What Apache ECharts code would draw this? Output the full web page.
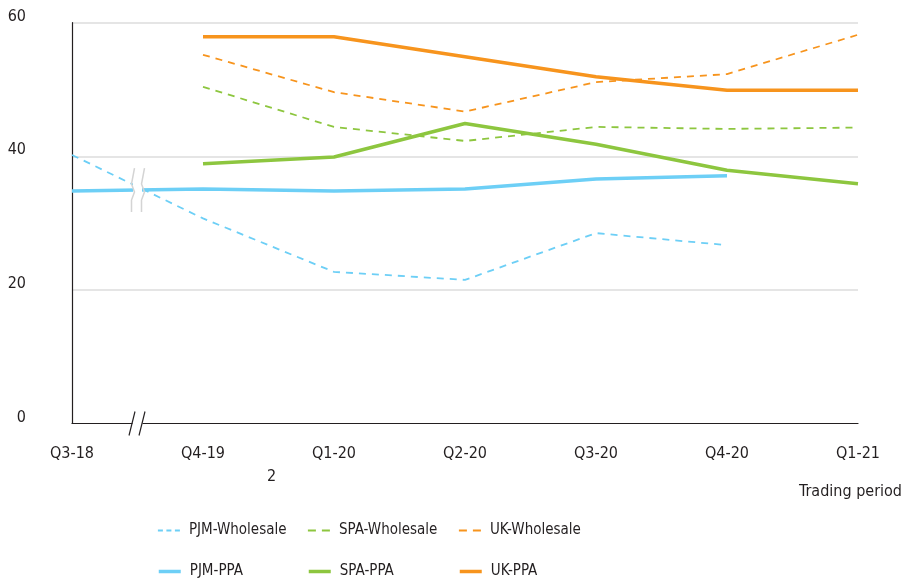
<!DOCTYPE html>
<html>
<head>
<meta charset="utf-8">
<script src="https://cdn.jsdelivr.net/npm/echarts@6/dist/echarts.min.js"></script>
<style>
  html, body { margin: 0; padding: 0; background: #fff; }
  #chart { width: 919px; height: 579px; }
</style>
</head>
<body>
<div id="chart"></div>
<script>
// Trading periods (gap between Q3-18 and Q4-19 shown as an axis break)
const periods = ['Q3-18', 'Q4-19', 'Q1-20', 'Q2-20', 'Q3-20', 'Q4-20', 'Q1-21'];

// Prices per trading period
const pjmWholesale = [40.2, 30.7, 22.7, 21.5, 28.5, 26.7, null];
const spaWholesale = [null, 50.4, 44.4, 42.3, 44.4, 44.1, 44.3];
const ukWholesale  = [null, 55.2, 49.6, 46.7, 51.1, 52.3, 58.2];
const pjmPPA       = [34.8, 35.1, 34.8, 35.1, 36.6, 37.1, null];
const spaPPA       = [null, 38.9, 39.9, 44.9, 41.8, 37.9, 35.9];
const ukPPA        = [null, 57.9, 57.9, 54.9, 51.9, 49.9, 49.9];

const yTicks = [0, 20, 40, 60];

const FONT = '"DejaVu Sans Condensed", "Liberation Sans Narrow", "Roboto", sans-serif';
const TEXT = '#231f20';
const BLUE = '#6dcff6', GREEN = '#8dc63f', ORANGE = '#f7941d';

function line(name, data, color, dashed) {
  return {
    name, type: 'line', data,
    showSymbol: false, symbol: 'none',
    connectNulls: false, z: dashed ? 2 : 3,
    lineStyle: dashed
      ? { color, width: 1.8, type: [7, 6] }
      : { color, width: 3.5, type: 'solid' },
    itemStyle: { color }
  };
}

// one legend per entry so the entries line up in a 3x2 grid
function legendItem(name, left, rowCenter, lineStyle) {
  return {
    left, top: rowCenter - 9, padding: 0, height: 18,
    itemWidth: 22, itemHeight: 14,
    itemStyle: { opacity: 0 },
    lineStyle,
    data: [name], selectedMode: false,
    textStyle: { fontFamily: FONT, fontSize: 15, color: TEXT, padding: [0, 0, 0, 4] }
  };
}

const SHORT_DASH = { width: 1.8, type: [5, 3.5] };
const LONG_DASH = { width: 1.8, type: [8, 6] };
const SOLID = { width: 3.5, type: 'solid' };
const ROW1 = 532, ROW2 = 573;

const chart = echarts.init(document.getElementById('chart'), null, { renderer: 'canvas' });

chart.setOption({
  animation: false,
  backgroundColor: '#fff',
  grid: { left: 72, right: 61, top: 22.7, bottom: 155.5, containLabel: false },
  legend: [
    legendItem('PJM-Wholesale', 157, ROW1, SHORT_DASH),
    legendItem('SPA-Wholesale', 307, ROW1, LONG_DASH),
    legendItem('UK-Wholesale', 458, ROW1, LONG_DASH),
    legendItem('PJM-PPA', 157, ROW2, SOLID),
    legendItem('SPA-PPA', 307, ROW2, SOLID),
    legendItem('UK-PPA', 458, ROW2, SOLID)
  ],
  xAxis: {
    type: 'category', data: periods, boundaryGap: false,
    axisLine: { lineStyle: { color: '#231f20', width: 1.2 } },
    axisTick: { show: false },
    axisLabel: { fontFamily: FONT, fontSize: 16, color: TEXT, margin: 22 },
    splitLine: { show: false }
  },
  yAxis: {
    type: 'value', min: yTicks[0], max: yTicks[yTicks.length - 1], interval: 20,
    axisLine: { show: true, lineStyle: { color: '#231f20', width: 1.2 } },
    axisTick: { show: false },
    axisLabel: { fontFamily: FONT, fontSize: 16, color: TEXT, margin: 46, verticalAlign: 'bottom', lineHeight: 12 },
    splitLine: { show: true, lineStyle: { color: '#dcdcdc', width: 1.5 }, showMinLine: false }
  },
  series: [
    line('PJM-Wholesale', pjmWholesale, BLUE, true),
    line('SPA-Wholesale', spaWholesale, GREEN, true),
    line('UK-Wholesale', ukWholesale, ORANGE, true),
    line('PJM-PPA', pjmPPA, BLUE, false),
    line('SPA-PPA', spaPPA, GREEN, false),
    line('UK-PPA', ukPPA, ORANGE, false)
  ]
});

// Axis break between the first two periods
const x0 = chart.convertToPixel({ xAxisIndex: 0 }, 0);
const x1 = chart.convertToPixel({ xAxisIndex: 0 }, 1);
const bx = (x0 + x1) / 2;
const axisY = chart.convertToPixel({ yAxisIndex: 0 }, 0);
const lineMidY = chart.convertToPixel({ yAxisIndex: 0 }, (pjmPPA[0] + pjmPPA[1]) / 2);

function squiggle(cx, top) {
  return [
    [cx + 1.5, top], [cx - 1.5, top + 16], [cx + 1.5, top + 24],
    [cx - 1.5, top + 32], [cx - 1.5, top + 44]
  ];
}
const sqTop = lineMidY - 22;

chart.setOption({
  graphic: [
    // white gap in the lines
    { type: 'rect', z: 100, shape: { x: bx - 4.5, y: sqTop, width: 9, height: 44 }, style: { fill: '#fff' } },
    { type: 'polyline', z: 101, shape: { points: squiggle(bx - 4.5, sqTop) }, style: { stroke: '#d4d4d4', lineWidth: 1.5, fill: null } },
    { type: 'polyline', z: 101, shape: { points: squiggle(bx + 5.5, sqTop) }, style: { stroke: '#d4d4d4', lineWidth: 1.5, fill: null } },
    // gap and slashes on the x axis
    { type: 'rect', z: 100, shape: { x: bx - 5, y: axisY - 2, width: 10, height: 4 }, style: { fill: '#fff' } },
    { type: 'line', z: 101, shape: { x1: bx - 8.5, y1: axisY + 12, x2: bx - 2.5, y2: axisY - 12 }, style: { stroke: '#231f20', lineWidth: 1.2 } },
    { type: 'line', z: 101, shape: { x1: bx + 1.5, y1: axisY + 12, x2: bx + 7.5, y2: axisY - 12 }, style: { stroke: '#231f20', lineWidth: 1.2 } },
    // footnote marker and axis title
    { type: 'text', z: 101, left: 267, top: 469, style: { text: '2', font: '16px ' + FONT, fill: TEXT } },
    { type: 'text', z: 101, right: 17, top: 484, style: { text: 'Trading period', font: '16px ' + FONT, fill: TEXT } }
  ]
});
</script>
</body>
</html>
